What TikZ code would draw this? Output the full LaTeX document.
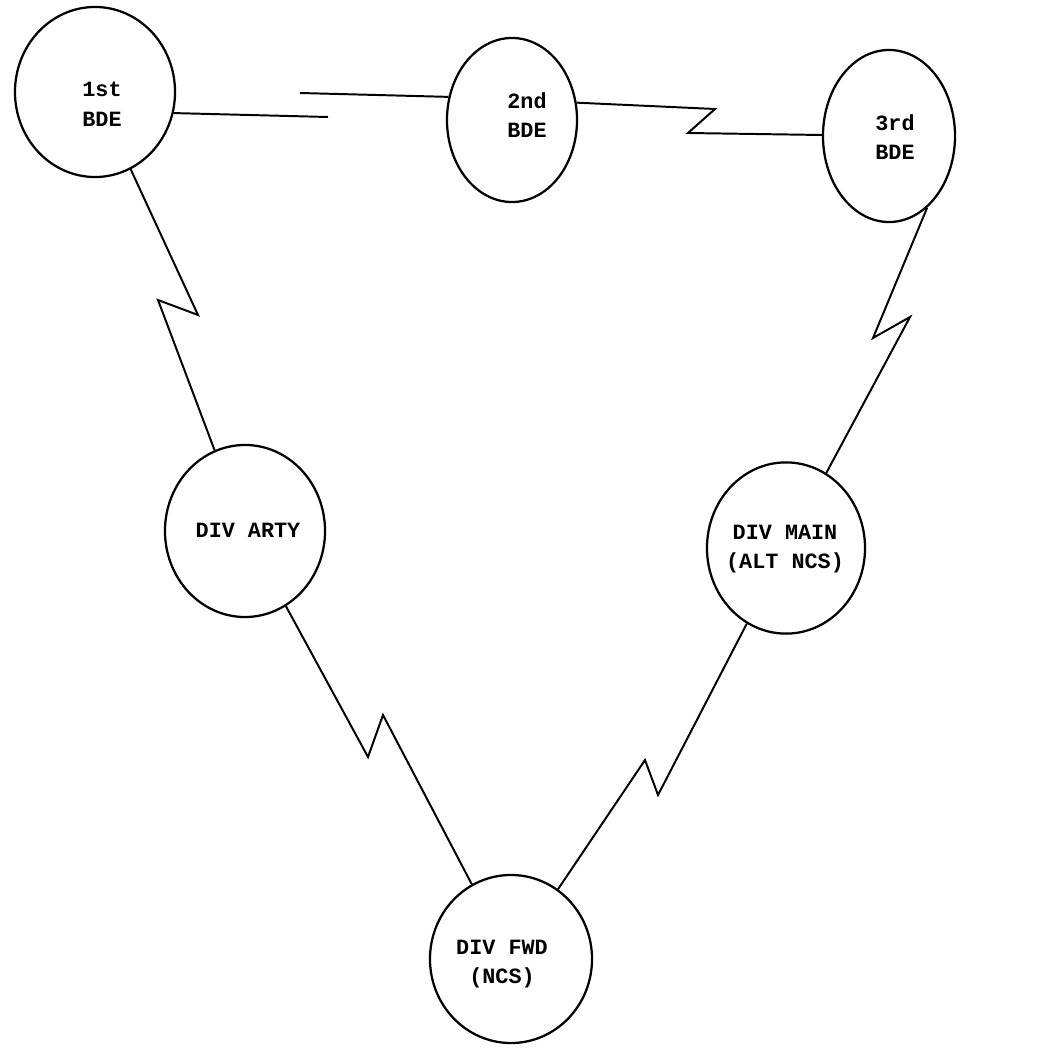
\documentclass[tikz,border=0pt]{standalone}
\usepackage{fontspec}
\setmonofont{Liberation Mono}
\usetikzlibrary{calc,positioning,shapes.geometric}
\tikzset{
  station/.style={draw, ellipse, line width=1.6pt, inner sep=0pt},
  tag/.style={align=center, inner sep=0pt,
    font=\ttfamily\bfseries\fontsize{15.5}{21}\selectfont},
  link/.style={line width=1.4pt}
}

\begin{document}
\begin{tikzpicture}[x=0.025cm,y=-0.025cm]
    \useasboundingbox (0,0) rectangle (1057,1050);
    % stations
    \node[station,minimum width=4cm,minimum height=4.25cm] (bde1) at (95,92) {};
    \node[station,minimum width=3.25cm,minimum height=4.1cm] (bde2) at (512,120) {};
    \node[station,minimum width=3.3cm,minimum height=4.3cm] (bde3) at (889,136) {};
    \node[station,minimum width=4cm,minimum height=4.3cm] (arty) at (245,531) {};
    \node[station,minimum width=3.95cm,minimum height=4.28cm] (main) at (786,548) {};
    \node[station,minimum width=4.05cm,minimum height=4.2cm] (fwd) at (511,959) {};
    % texts
    \node[tag] (bde1t) at (102,104) {1st\\BDE};
    \node[tag] (bde2t) at (527,115) {2nd\\BDE};
    \node[tag] (bde3t) at (895,137) {3rd\\BDE};
    \node[tag] (artyt) at (248,530) {DIV ARTY};
    \node[tag] (maint) at (785,549) {DIV MAIN\\(ALT NCS)};
    \node[tag] (fwdt) at (502,964) {DIV FWD\\(NCS)};
    % break points of the radio links
    \coordinate (z12a) at (328,117);
    \coordinate (z12b) at (300,93);
    \coordinate (z23a) at (715,109);
    \coordinate (z23b) at (688,133);
    \coordinate (z1aa) at (198,315);
    \coordinate (z1ab) at (158,300);
    \coordinate (z3ma) at (873,338);
    \coordinate (z3mb) at (910,317);
    \coordinate (zafa) at (368,757);
    \coordinate (zafb) at (383,715);
    \coordinate (zmfa) at (658,795);
    \coordinate (zmfb) at (645,760);
    % links
    \draw[link] (bde1.-15) -- (z12a);
    \draw[link] (z12b) -- (bde2.160);
    \draw[link] (bde2.15) -- (z23a) -- (z23b) -- (bde3);
    \draw[link] (bde1) -- (z1aa) -- (z1ab) -- (arty);
    \draw[link] (bde3.-62) -- (z3ma) -- (z3mb) -- (main);
    \draw[link] (arty) -- (zafa) -- (zafb) -- (fwd);
    \draw[link] (main) -- (zmfa) -- (zmfb) -- (fwd);
\end{tikzpicture}
\end{document}
